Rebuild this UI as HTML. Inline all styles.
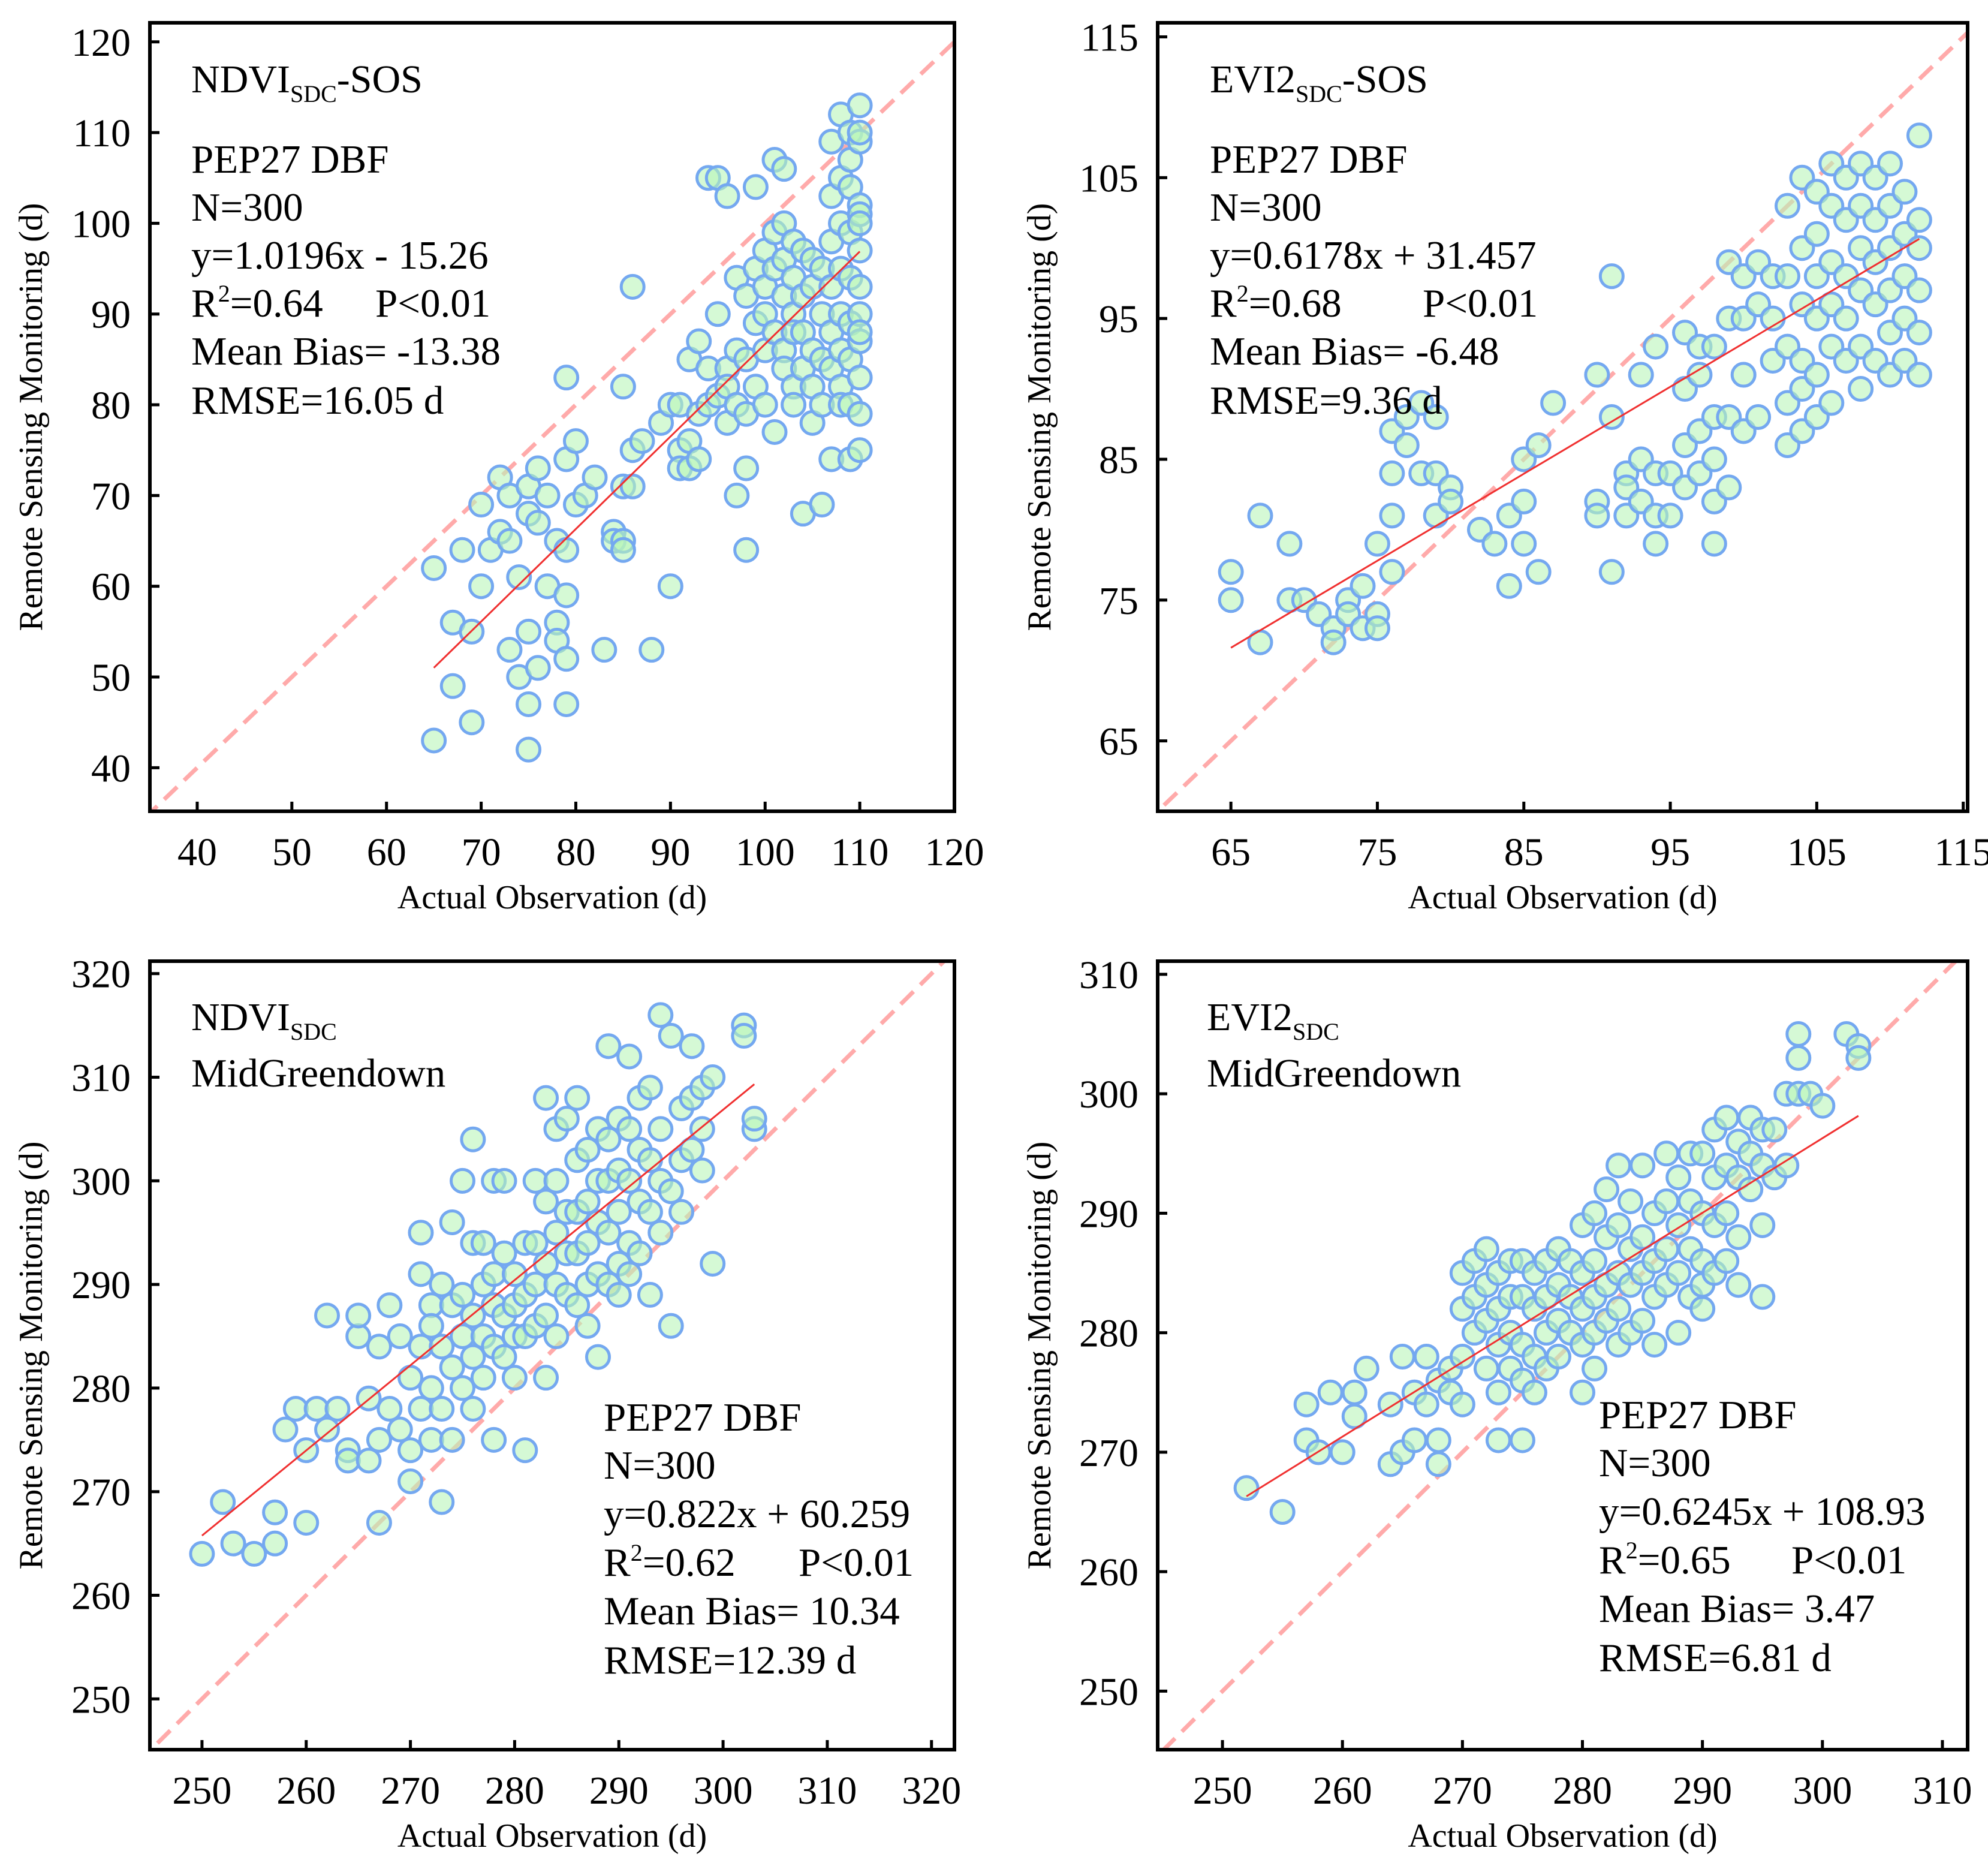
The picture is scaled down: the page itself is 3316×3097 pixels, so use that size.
<!DOCTYPE html>
<html><head><meta charset="utf-8"><style>
html,body{margin:0;padding:0;background:#fff;}
svg{display:block;font-family:"Liberation Serif",serif;}
</style></head><body>
<svg id="fig" width="3316" height="3097" viewBox="0 0 3316 3097" xmlns="http://www.w3.org/2000/svg"></svg>
<script>
// ---------- data ----------
const sosNdviPts = [[65,62],[65,43],[67,56],[67,49],[68,64],[69,55],[69,45],[70,69],[70,60],[71,64],[72,72],[72,66],[73,70],[73,53],[73,65],[74,61],[74,50],[75,71],[75,68],[75,55],[75,47],[75,42],[76,73],[76,67],[76,51],[77,70],[77,60],[78,56],[78,54],[78,65],[79,74],[79,64],[79,59],[79,52],[79,47],[79,83],[80,76],[80,69],[81,70],[82,72],[83,53],[84,66],[84,65],[85,65],[85,64],[85,82],[85,71],[86,71],[86,75],[86,93],[87,76],[88,53],[89,78],[90,80],[90,60],[91,80],[91,75],[91,73],[92,85],[92,76],[92,73],[93,74],[93,79],[93,87],[94,84],[94,80],[94,105],[95,105],[95,90],[95,81],[96,84],[96,82],[96,78],[96,103],[97,94],[97,86],[97,80],[97,70],[98,92],[98,85],[98,79],[98,73],[98,64],[99,104],[99,95],[99,89],[99,82],[100,97],[100,93],[100,90],[100,86],[100,80],[101,107],[101,99],[101,95],[101,88],[101,77],[102,106],[102,100],[102,96],[102,92],[102,86],[102,84],[103,98],[103,94],[103,90],[103,88],[103,82],[103,80],[104,97],[104,92],[104,88],[104,84],[104,68],[105,96],[105,93],[105,86],[105,82],[105,78],[106,95],[106,90],[106,85],[106,80],[106,69],[107,103],[107,98],[107,93],[107,88],[107,84],[107,74],[107,109],[108,112],[108,105],[108,100],[108,95],[108,90],[108,86],[108,82],[108,80],[109,110],[109,107],[109,104],[109,99],[109,94],[109,89],[109,85],[109,80],[109,74],[110,113],[110,109],[110,102],[110,97],[110,93],[110,87],[110,83],[110,79],[110,75],[110,110],[110,101],[110,90],[110,88],[110,100]];
const sosEviPts = [[65,77],[65,75],[67,81],[67,72],[69,79],[69,75],[70,75],[71,74],[72,73],[72,72],[73,75],[73,74],[74,76],[74,73],[75,74],[75,79],[75,73],[76,84],[76,81],[76,77],[76,87],[77,88],[77,86],[78,84],[78,89],[79,88],[79,84],[79,81],[80,83],[80,82],[82,80],[83,79],[84,81],[84,76],[85,85],[85,82],[85,79],[86,86],[86,77],[87,89],[90,91],[90,82],[90,81],[91,98],[91,88],[91,77],[92,84],[92,83],[92,81],[93,91],[93,85],[93,82],[94,84],[94,81],[94,79],[94,93],[95,84],[95,81],[96,94],[96,86],[96,83],[96,90],[97,93],[97,87],[97,84],[97,91],[98,93],[98,88],[98,85],[98,79],[98,82],[99,99],[99,95],[99,88],[99,83],[100,98],[100,95],[100,91],[100,87],[101,99],[101,96],[101,88],[102,98],[102,95],[102,92],[103,103],[103,98],[103,93],[103,89],[103,86],[104,105],[104,100],[104,96],[104,92],[104,87],[104,90],[105,104],[105,101],[105,98],[105,95],[105,91],[105,88],[106,106],[106,103],[106,99],[106,96],[106,93],[106,89],[107,105],[107,102],[107,98],[107,95],[107,92],[108,106],[108,103],[108,100],[108,97],[108,93],[108,90],[109,105],[109,102],[109,99],[109,96],[109,92],[110,106],[110,103],[110,100],[110,97],[110,94],[110,91],[111,104],[111,101],[111,98],[111,95],[111,92],[112,108],[112,102],[112,97],[112,94],[112,91],[112,100]];
const mgdNdviPts = [[250,264],[252,269],[253,265],[255,264],[257,268],[257,265],[258,276],[259,278],[260,274],[260,267],[261,278],[262,287],[262,276],[263,278],[264,274],[264,273],[265,285],[265,287],[266,279],[266,273],[267,284],[267,275],[267,267],[268,288],[268,278],[269,285],[269,276],[270,281],[270,274],[270,271],[271,291],[271,284],[271,278],[271,295],[272,288],[272,286],[272,280],[272,275],[273,290],[273,284],[273,278],[273,269],[274,296],[274,288],[274,282],[274,275],[275,300],[275,289],[275,285],[275,280],[276,304],[276,294],[276,287],[276,283],[276,278],[277,294],[277,290],[277,285],[277,281],[278,300],[278,291],[278,288],[278,284],[278,275],[279,300],[279,293],[279,287],[279,283],[280,291],[280,288],[280,285],[280,281],[281,294],[281,289],[281,285],[281,274],[282,300],[282,294],[282,290],[282,286],[283,308],[283,298],[283,292],[283,287],[283,281],[284,305],[284,300],[284,295],[284,290],[284,285],[285,306],[285,297],[285,293],[285,289],[286,308],[286,302],[286,297],[286,293],[286,288],[287,303],[287,298],[287,294],[287,290],[287,286],[288,305],[288,300],[288,296],[288,291],[288,283],[289,313],[289,304],[289,300],[289,295],[289,290],[290,306],[290,301],[290,297],[290,292],[290,289],[291,312],[291,305],[291,300],[291,294],[291,291],[292,308],[292,303],[292,298],[292,293],[293,309],[293,302],[293,297],[293,289],[294,316],[294,305],[294,300],[294,295],[295,314],[295,299],[295,286],[296,307],[296,302],[296,297],[297,313],[297,308],[297,303],[298,309],[298,305],[298,301],[299,292],[299,310],[302,315],[302,314],[303,305],[303,306]];
const mgdEviPts = [[252,267],[255,265],[257,274],[257,271],[258,270],[259,275],[260,270],[261,275],[261,273],[262,277],[264,274],[264,269],[265,278],[265,270],[266,275],[266,271],[267,278],[267,274],[268,276],[268,271],[268,269],[269,277],[269,275],[270,285],[270,282],[270,278],[270,274],[271,286],[271,283],[271,280],[272,287],[272,284],[272,281],[272,277],[273,285],[273,282],[273,279],[273,275],[273,271],[274,286],[274,283],[274,280],[274,277],[275,286],[275,283],[275,279],[275,276],[275,271],[276,285],[276,282],[276,278],[276,275],[277,286],[277,283],[277,280],[277,277],[278,287],[278,284],[278,281],[278,278],[279,286],[279,283],[279,280],[280,289],[280,285],[280,282],[280,279],[280,275],[281,290],[281,286],[281,283],[281,280],[281,277],[282,292],[282,288],[282,284],[282,281],[283,294],[283,289],[283,285],[283,282],[283,279],[284,291],[284,287],[284,284],[284,280],[285,294],[285,288],[285,285],[285,281],[286,290],[286,286],[286,283],[286,279],[287,295],[287,291],[287,287],[287,284],[288,293],[288,289],[288,285],[288,280],[289,295],[289,291],[289,287],[289,283],[290,295],[290,290],[290,286],[290,284],[290,282],[291,297],[291,293],[291,289],[291,285],[292,298],[292,294],[292,290],[292,286],[293,296],[293,293],[293,288],[293,284],[294,298],[294,295],[294,292],[295,297],[295,294],[295,289],[295,283],[296,297],[296,293],[297,300],[297,294],[298,303],[298,300],[298,305],[299,300],[300,299],[302,305],[303,304],[303,303]];
const sosNdviFit = [1.0196, -15.26, 65, 110];
const sosEviFit = [0.6178, 31.457, 65, 112];
const mgdNdviFit = [0.822, 60.259, 250, 303];
const mgdEviFit = [0.6245, 108.93, 252, 303];
const sosNdviXTicks = [40,50,60,70,80,90,100,110,120];
const sosNdviYTicks = [40,50,60,70,80,90,100,110,120];
const sosEviXTicks = [65,75,85,95,105,115];
const sosEviYTicks = [65,75,85,95,105,115];
const mgdNdviXTicks = [250,260,270,280,290,300,310,320];
const mgdNdviYTicks = [250,260,270,280,290,300,310,320];
const mgdEviXTicks = [250,260,270,280,290,300,310];
const mgdEviYTicks = [250,260,270,280,290,300,310];

const NS = "http://www.w3.org/2000/svg";
const svg = document.getElementById('fig');
function mk(tag, attrs, parent) {
  const e = document.createElementNS(NS, tag);
  for (const k in attrs) e.setAttribute(k, attrs[k]);
  (parent || svg).appendChild(e);
  return e;
}

function panel(cfg) {
  const g = mk('g', {});
  
  
  const {L, T, R, B, x0, x1, y0, y1} = cfg;
  const sx = v => L + (v - x0) / (x1 - x0) * (R - L);
  const sy = v => B - (v - y0) / (y1 - y0) * (B - T);
  const clipId = cfg.name + '-clip';
  const cp = mk('clipPath', {id: clipId}, g);
  mk('rect', {x: L, y: T, width: R - L, height: B - T}, cp);
  const plot = mk('g', {'clip-path': 'url(#' + clipId + ')'}, g);
  const lo = Math.max(x0, y0), hi = Math.min(x1, y1) + 5;
  const diag = mk('line', {x1: sx(lo - 5), y1: sy(lo - 5), x2: sx(hi), y2: sy(hi), stroke: '#ffaaaa', 'stroke-width': 7, 'stroke-dasharray': '30 16'}, plot);
  
  
  cfg.pts.forEach(p => {
    const c = mk('circle', {cx: sx(p[0]), cy: sy(p[1]), r: 19, fill: 'rgba(185,245,185,0.6)', stroke: '#74a8f0', 'stroke-width': 5}, plot);
    
    
  });
  const f = cfg.fit;
  const fl = mk('line', {x1: sx(f[2]), y1: sy(f[0]*f[2]+f[1]), x2: sx(f[3]), y2: sy(f[0]*f[3]+f[1]), stroke: '#f03030', 'stroke-width': 3}, plot);
  
  
  const fr = mk('rect', {x: L, y: T, width: R - L, height: B - T, fill: 'none', stroke: '#000', 'stroke-width': 6}, g);
  
  
  cfg.xt.forEach(v => {
    const x = sx(v);
    mk('line', {x1: x, y1: B, x2: x, y2: B - 16, stroke: '#000', 'stroke-width': 5}, g);
    const t = mk('text', {x: x, y: B + 90, 'font-size': 66, 'text-anchor': 'middle'}, g);
    t.textContent = v;
    
    
  });
  cfg.yt.forEach(v => {
    const y = sy(v);
    mk('line', {x1: L, y1: y, x2: L + 16, y2: y, stroke: '#000', 'stroke-width': 5}, g);
    const t = mk('text', {x: L - 32, y: y + 23, 'font-size': 66, 'text-anchor': 'end'}, g);
    t.textContent = v;
    
    
  });
  const xt = mk('text', {x: (L + R) / 2, y: B + 162, 'font-size': 56, 'text-anchor': 'middle'}, g);
  xt.textContent = 'Actual Observation (d)';
  
  
  const ycx = cfg.ytx, ycy = (T + B) / 2;
  const yt = mk('text', {x: ycx, y: ycy, 'font-size': 56, 'text-anchor': 'middle', transform: 'rotate(-90 ' + ycx + ' ' + ycy + ')'}, g);
  yt.textContent = 'Remote Sensing Monitoring (d)';
  
  
  return g;
}

function title(g, x, y, main, rest, name) {
  const t = mk('text', {x: x, y: y, 'font-size': 66}, g);
  
  
  const a = mk('tspan', {}, t); a.textContent = main;
  const b = mk('tspan', {'font-size': 40, dy: 16}, t); b.textContent = 'SDC';
  if (rest) { const c = mk('tspan', {dy: -16}, t); c.textContent = rest; }
}
function stats(g, x, ys, lines, px) {
  lines.forEach((ln, i) => {
    const t = mk('text', {x: x, y: ys[i], 'font-size': 67}, g);
    
    
    if (ln.indexOf('R2') === 0) {
      const parts = ln.slice(2).split('|');
      const a = mk('tspan', {}, t); a.textContent = 'R';
      const b = mk('tspan', {'font-size': 40, dy: -25}, t); b.textContent = '2';
      const c = mk('tspan', {dy: 25}, t); c.textContent = parts[0];
      const d = mk('tspan', {x: px}, t); d.textContent = parts[1];
    } else t.textContent = ln;
  });
}

const g1 = panel({name: 'panel-ndvi-sos', L: 250, T: 38, R: 1592, B: 1353, x0: 35, x1: 120, y0: 35.2, y1: 122.1, pts: sosNdviPts, fit: sosNdviFit, xt: sosNdviXTicks, yt: sosNdviYTicks, ytx: 70});
title(g1, 319, 154, 'NDVI', '-SOS', 'panel-title');
stats(g1, 319, [288, 368, 448, 528, 608, 690], ['PEP27 DBF', 'N=300', 'y=1.0196x - 15.26', 'R2=0.64|P<0.01', 'Mean Bias= -13.38', 'RMSE=16.05 d'], 626);

const g2 = panel({name: 'panel-evi2-sos', L: 1931, T: 38, R: 3282, B: 1353, x0: 60, x1: 115.3, y0: 60, y1: 116, pts: sosEviPts, fit: sosEviFit, xt: sosEviXTicks, yt: sosEviYTicks, ytx: 1752});
title(g2, 2018, 154, 'EVI2', '-SOS', 'panel-title');
stats(g2, 2018, [288, 368, 448, 528, 608, 690], ['PEP27 DBF', 'N=300', 'y=0.6178x + 31.457', 'R2=0.68|P<0.01', 'Mean Bias= -6.48', 'RMSE=9.36 d'], 2373);

const g3 = panel({name: 'panel-ndvi-midgreendown', L: 250, T: 1603, R: 1592, B: 2918, x0: 245, x1: 322.2, y0: 245.1, y1: 321.2, pts: mgdNdviPts, fit: mgdNdviFit, xt: mgdNdviXTicks, yt: mgdNdviYTicks, ytx: 70});
title(g3, 319, 1718, 'NDVI', '', 'panel-title');
stats(g3, 319, [1812], ['MidGreendown']);
stats(g3, 1007, [2386, 2466, 2547, 2628, 2709, 2791], ['PEP27 DBF', 'N=300', 'y=0.822x + 60.259', 'R2=0.62|P<0.01', 'Mean Bias= 10.34', 'RMSE=12.39 d'], 1332);

const g4 = panel({name: 'panel-evi2-midgreendown', L: 1931, T: 1603, R: 3282, B: 2918, x0: 244.6, x1: 312.1, y0: 245.1, y1: 311.1, pts: mgdEviPts, fit: mgdEviFit, xt: mgdEviXTicks, yt: mgdEviYTicks, ytx: 1752});
title(g4, 2013, 1718, 'EVI2', '', 'panel-title');
stats(g4, 2013, [1812], ['MidGreendown']);
stats(g4, 2667, [2382, 2462, 2543, 2624, 2705, 2787], ['PEP27 DBF', 'N=300', 'y=0.6245x + 108.93', 'R2=0.65|P<0.01', 'Mean Bias= 3.47', 'RMSE=6.81 d'], 2988);
</script>
</body></html>
